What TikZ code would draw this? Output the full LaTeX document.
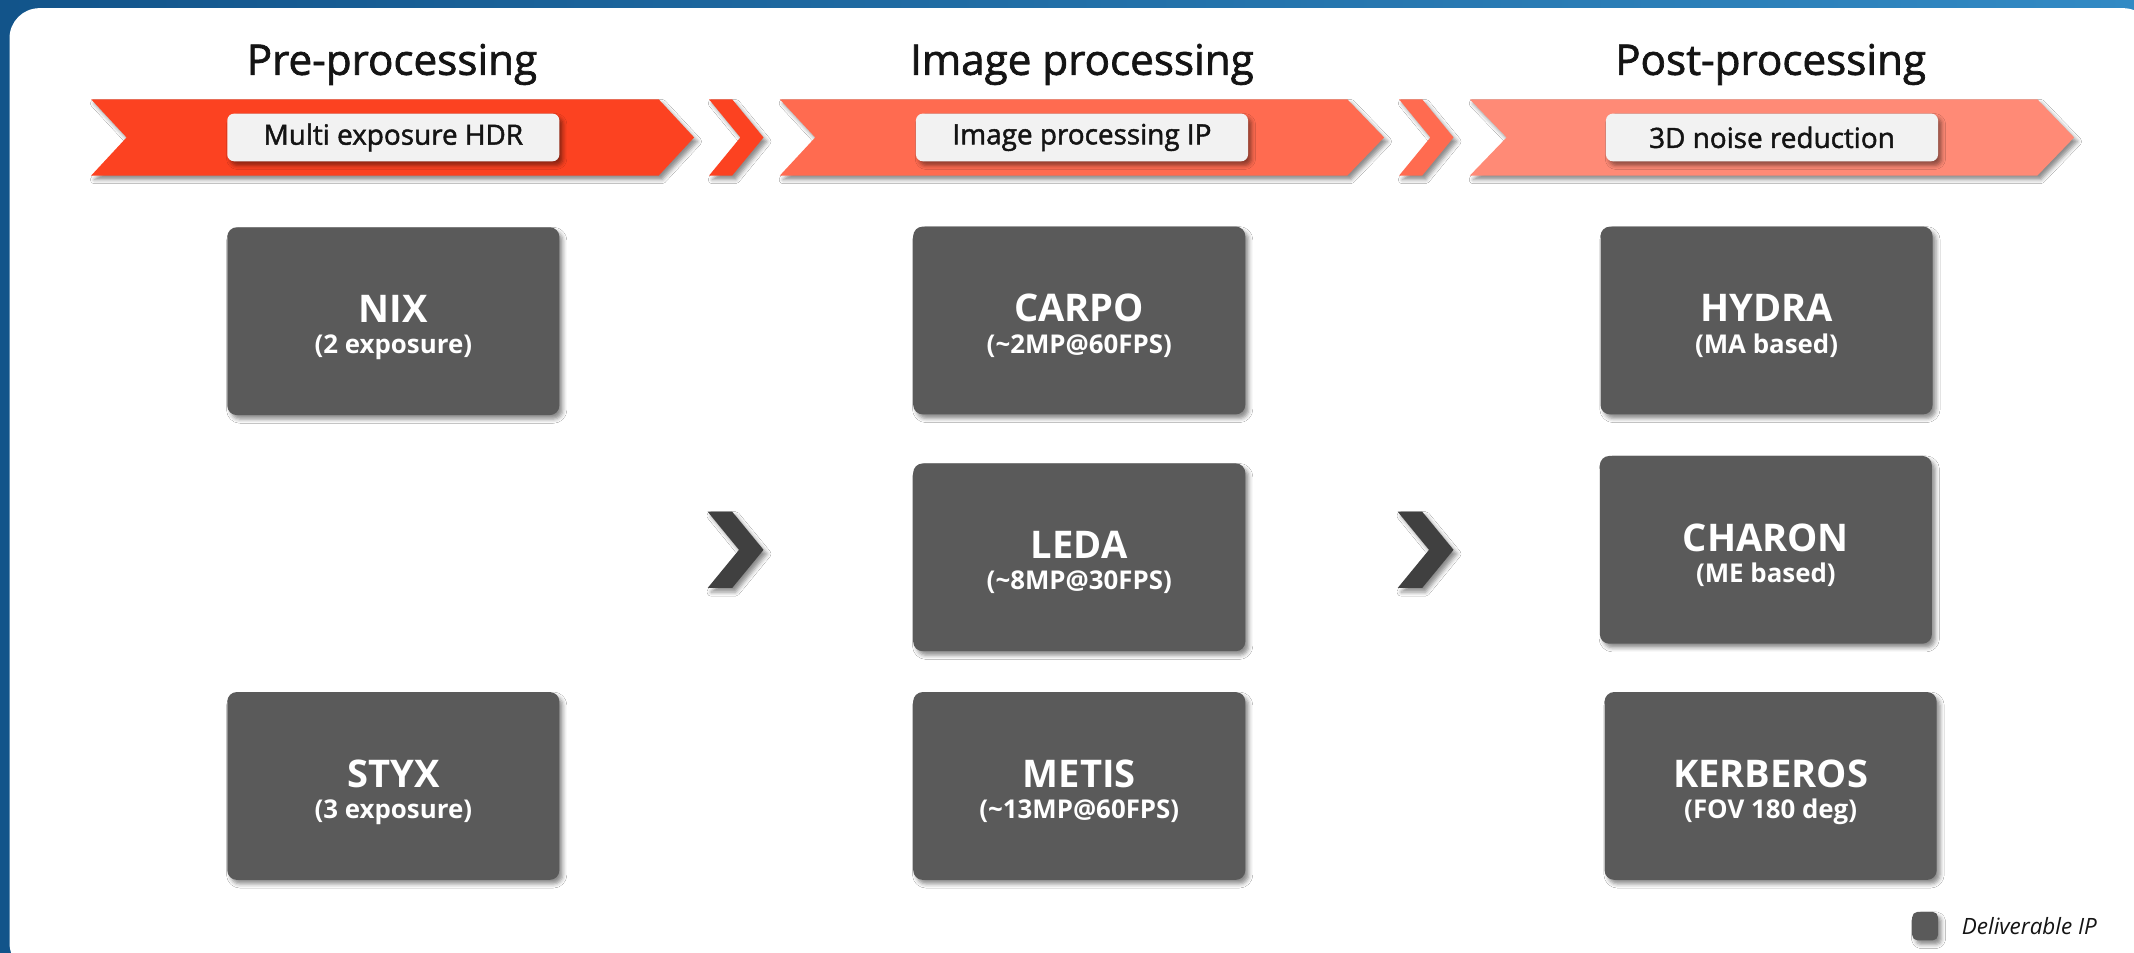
\documentclass[tikz,border=0pt]{standalone}
\usepackage{fontspec}
\setmainfont{Open Sans}
\newfontfamily\medfont[FakeBold=1.6]{Open Sans}
\usetikzlibrary{shadows.blur}
\definecolor{bgL}{RGB}{18,84,138}
\definecolor{bgR}{RGB}{50,138,196}
\definecolor{bandA}{RGB}{252,66,33}
\definecolor{bandB}{RGB}{255,107,80}
\definecolor{bandC}{RGB}{255,138,118}
\definecolor{tagfill}{RGB}{242,242,242}
\definecolor{ipbox}{RGB}{90,90,90}
\definecolor{chev}{RGB}{64,64,64}
\definecolor{ink}{RGB}{20,20,20}
\begin{document}
\begin{tikzpicture}[x=1pt,y=-1pt,
  shad/.style={blur shadow={shadow xshift=2.5pt, shadow yshift=-3pt, shadow blur radius=3pt, shadow opacity=45}},
  phase/.style={text=ink, anchor=base, font=\medfont\fontsize{31}{36}\selectfont},
  tagbox/.style={fill=tagfill, rounded corners=5pt, minimum width=244pt, minimum height=35pt, inner sep=0pt, shad, text=ink, font=\medfont\fontsize{20.5}{25}\selectfont},
  dbox/.style={fill=ipbox, rounded corners=7pt, minimum width=244pt, minimum height=138pt, inner sep=0pt, shad},
  ipname/.style={text=white, anchor=base, font=\bfseries\fontsize{28}{32}\selectfont},
  ipsub/.style={text=white, anchor=base, font=\bfseries\fontsize{19}{22}\selectfont},
  chevshape/.style={fill=chev, shad},
]
\useasboundingbox (0,0) rectangle (1568,700);
% background frame
\fill[left color=bgL, right color=bgR] (0,0) rectangle (1568,700);
\fill[white, rounded corners=22pt] (7,6) rectangle (1582,715);

% phase titles
\node[phase] (t1) at (288,55) {Pre-processing};
\node[phase] (t2) at (795,55) {Image processing};
\node[phase] (t3) at (1301,55) {Post-processing};

% banners
\fill[bandA, shad] (67,73) -- (484,73) -- (510,101) -- (484,129) -- (67,129) -- (93,101) -- cycle;
\fill[bandA, shad] (521,73) -- (538,73) -- (561,101) -- (538,129) -- (521,129) -- (544,101) -- cycle;
\fill[bandB, shad] (573,73) -- (990,73) -- (1017,101) -- (990,129) -- (573,129) -- (599,101) -- cycle;
\fill[bandB, shad] (1028,73) -- (1045,73) -- (1068,101) -- (1045,129) -- (1028,129) -- (1051,101) -- cycle;
\fill[bandC, shad] (1080,73) -- (1497,73) -- (1524,101) -- (1497,129) -- (1080,129) -- (1107,101) -- cycle;

% banner tags
\node[tagbox] (tag1) at (289,101) {Multi exposure HDR};
\node[tagbox] (tag2) at (795,101) {Image processing IP};
\node[tagbox] (tag3) at (1302,101) {3D noise reduction};

% IP boxes
\node[dbox] (nix) at (289,236) {};
\node[ipname] (nixA) at ([yshift=-1pt]nix.center) {NIX};
\node[ipsub] (nixB) at ([yshift=-24pt]nix.center) {(2 exposure)};

\node[dbox] (styx) at (289,577.5) {};
\node[ipname] (styxA) at ([yshift=-1pt]styx.center) {STYX};
\node[ipsub] (styxB) at ([yshift=-24pt]styx.center) {(3 exposure)};

\node[dbox] (carpo) at (793,235.5) {};
\node[ipname] (carpoA) at ([yshift=-1pt]carpo.center) {CARPO};
\node[ipsub] (carpoB) at ([yshift=-24pt]carpo.center) {(\textasciitilde 2MP@60FPS)};

\node[dbox] (leda) at (793,409.5) {};
\node[ipname] (ledaA) at ([yshift=-1pt]leda.center) {LEDA};
\node[ipsub] (ledaB) at ([yshift=-24pt]leda.center) {(\textasciitilde 8MP@30FPS)};

\node[dbox] (metis) at (793,577.5) {};
\node[ipname] (metisA) at ([yshift=-1pt]metis.center) {METIS};
\node[ipsub] (metisB) at ([yshift=-24pt]metis.center) {(\textasciitilde 13MP@60FPS)};

\node[dbox] (hydra) at (1298,235.5) {};
\node[ipname] (hydraA) at ([yshift=-1pt]hydra.center) {HYDRA};
\node[ipsub] (hydraB) at ([yshift=-24pt]hydra.center) {(MA based)};

\node[dbox] (charon) at (1297.5,404) {};
\node[ipname] (charonA) at ([yshift=-1pt]charon.center) {CHARON};
\node[ipsub] (charonB) at ([yshift=-24pt]charon.center) {(ME based)};

\node[dbox] (kerberos) at (1301,577.5) {};
\node[ipname] (kerberosA) at ([yshift=-1pt]kerberos.center) {KERBEROS};
\node[ipsub] (kerberosB) at ([yshift=-24pt]kerberos.center) {(FOV 180 deg)};

% dark chevrons between columns
\fill[chevshape] (520,376) -- (538,376) -- (561,404) -- (538,432) -- (520,432) -- (543,404) -- cycle;
\fill[chevshape] (1027,376) -- (1045,376) -- (1068,404) -- (1045,432) -- (1027,432) -- (1050,404) -- cycle;

% legend
\node[fill=ipbox, rounded corners=4pt, minimum width=19pt, minimum height=21pt, inner sep=0pt, shad] (leg) at (1414.5,680.5) {};
\node[anchor=base west, text=ink, font=\itshape\fontsize{16.5}{20}\selectfont] (legT) at (1438,687) {Deliverable IP};
\end{tikzpicture}
\end{document}
